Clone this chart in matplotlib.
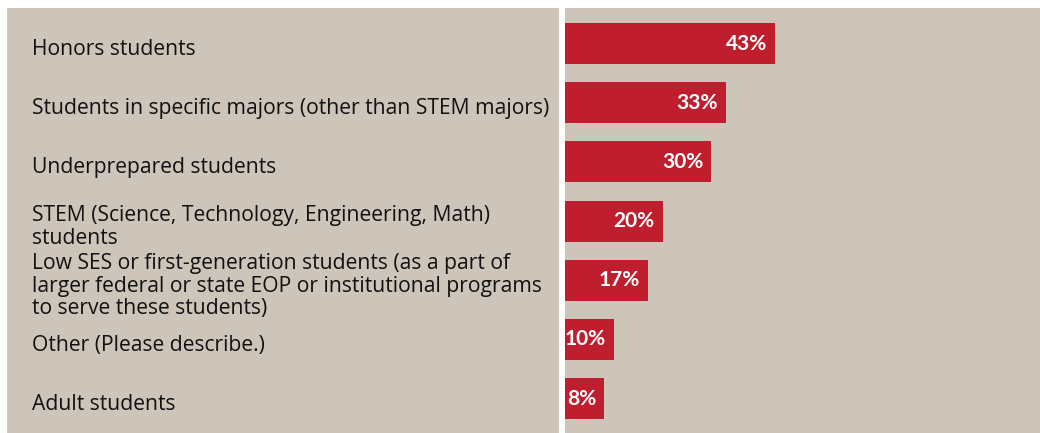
import matplotlib
matplotlib.use("Agg")
import matplotlib.pyplot as plt
from matplotlib.transforms import offset_copy

categories = [
    "Honors students",
    "Students in specific majors (other than STEM majors)",
    "Underprepared students",
    "STEM (Science, Technology, Engineering, Math)\nstudents",
    "Low SES or first-generation students (as a part of\nlarger federal or state EOP or institutional programs\nto serve these students)",
    "Other (Please describe.)",
    "Adult students",
]
values = [43, 33, 30, 20, 17, 10, 8]
value_labels = ["43%", "33%", "30%", "20%", "17%", "10%", "8%"]

BG = "#CDC5BA"
RED = "#BE1E2E"
FONT = ["Open Sans", "DejaVu Sans"]
FONT_B = ["Lato", "DejaVu Sans"]

W, H = 1040, 433
fig = plt.figure(figsize=(W / 100, H / 100), dpi=100)
fig.patch.set_facecolor("white")

top = 1 - 8 / H
axL = fig.add_axes([7 / W, 0, (559 - 7) / W, top])
axR = fig.add_axes([565 / W, 0, (W - 565) / W, top], sharey=axL)

for ax in (axL, axR):
    ax.set_facecolor(BG)
    for s in ax.spines.values():
        s.set_visible(False)
    ax.tick_params(left=False, bottom=False, labelleft=False, labelbottom=False)

n = len(categories)
ypos = list(range(n))
axR.barh(ypos, values, height=0.69, color=RED, linewidth=0)
axR.set_xlim(0, 97.3)
axR.set_ylim(n - 1 + 0.58, -0.6)

for y, v, lab in zip(ypos, values, value_labels):
    tr = offset_copy(axR.transData, fig=fig, x=-8, y=0, units="dots")
    axR.text(v, y, lab, transform=tr, ha="right", va="center",
             color="white", fontsize=15, fontweight="bold", family=FONT_B)

axL.set_xlim(0, 1)
for y, c in zip(ypos, categories):
    tr = offset_copy(axL.transData, fig=fig, x=0, y=-6, units="dots")
    axL.text(25 / 552, y, c, transform=tr, ha="left", va="center",
             color="#111111", fontsize=15.2, family=FONT, linespacing=1.1)

fig.savefig("out.png", dpi=100, facecolor=fig.get_facecolor())
